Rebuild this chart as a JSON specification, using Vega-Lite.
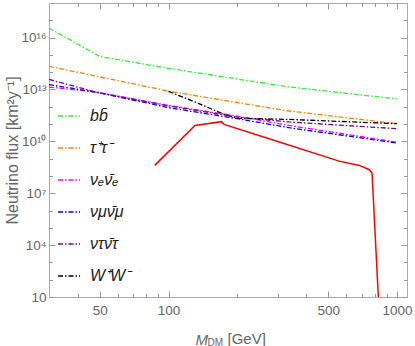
{
  "$schema": "https://vega.github.io/schema/vega-lite/v6.json",
  "width": 358,
  "height": 294,
  "autosize": {"type": "none"},
  "padding": {"left": 49, "top": 3, "right": 8, "bottom": 49},
  "background": "white",
  "config": {"view": {"stroke": "#aaaaaa", "strokeWidth": 1}, "font": "Liberation Sans"},
  "datasets": {
    "lines": [
      {"m": 30, "flux": 3.55e16, "ch": "bb\u0304"},
      {"m": 50, "flux": 8.13e14, "ch": "bb\u0304"},
      {"m": 100, "flux": 1.66e14, "ch": "bb\u0304"},
      {"m": 330, "flux": 1.45e13, "ch": "bb\u0304"},
      {"m": 1000, "flux": 2.82e12, "ch": "bb\u0304"},
      {"m": 30, "flux": 2.19e14, "ch": "\u03c4\u207a\u03c4\u207b"},
      {"m": 100, "flux": 7.94e12, "ch": "\u03c4\u207a\u03c4\u207b"},
      {"m": 330, "flux": 5.89e11, "ch": "\u03c4\u207a\u03c4\u207b"},
      {"m": 1000, "flux": 1.05e11, "ch": "\u03c4\u207a\u03c4\u207b"},
      {"m": 30, "flux": 1.38e13, "ch": "\u03bd\u2091\u03bd\u0304\u2091"},
      {"m": 48, "flux": 7.08e12, "ch": "\u03bd\u2091\u03bd\u0304\u2091"},
      {"m": 100, "flux": 1.2e12, "ch": "\u03bd\u2091\u03bd\u0304\u2091"},
      {"m": 200, "flux": 2.88e11, "ch": "\u03bd\u2091\u03bd\u0304\u2091"},
      {"m": 337, "flux": 8.3e10, "ch": "\u03bd\u2091\u03bd\u0304\u2091"},
      {"m": 1000, "flux": 8.9e9, "ch": "\u03bd\u2091\u03bd\u0304\u2091"},
      {"m": 30, "flux": 1.9e13, "ch": "\u03bd\u03bc\u03bd\u0304\u03bc"},
      {"m": 48, "flux": 7.08e12, "ch": "\u03bd\u03bc\u03bd\u0304\u03bc"},
      {"m": 100, "flux": 8.9e11, "ch": "\u03bd\u03bc\u03bd\u0304\u03bc"},
      {"m": 200, "flux": 2.04e11, "ch": "\u03bd\u03bc\u03bd\u0304\u03bc"},
      {"m": 337, "flux": 6.17e10, "ch": "\u03bd\u03bc\u03bd\u0304\u03bc"},
      {"m": 1000, "flux": 7.94e9, "ch": "\u03bd\u03bc\u03bd\u0304\u03bc"},
      {"m": 30, "flux": 3.8e13, "ch": "\u03bd\u03c4\u03bd\u0304\u03c4"},
      {"m": 48, "flux": 7.08e12, "ch": "\u03bd\u03c4\u03bd\u0304\u03c4"},
      {"m": 100, "flux": 1.12e12, "ch": "\u03bd\u03c4\u03bd\u0304\u03c4"},
      {"m": 200, "flux": 2.51e11, "ch": "\u03bd\u03c4\u03bd\u0304\u03c4"},
      {"m": 337, "flux": 1.32e11, "ch": "\u03bd\u03c4\u03bd\u0304\u03c4"},
      {"m": 1000, "flux": 5.37e10, "ch": "\u03bd\u03c4\u03bd\u0304\u03c4"},
      {"m": 100, "flux": 7.76e12, "ch": "W\u207aW\u207b"},
      {"m": 136, "flux": 1.51e12, "ch": "W\u207aW\u207b"},
      {"m": 172, "flux": 3.98e11, "ch": "W\u207aW\u207b"},
      {"m": 200, "flux": 2.14e11, "ch": "W\u207aW\u207b"},
      {"m": 337, "flux": 1.86e11, "ch": "W\u207aW\u207b"},
      {"m": 1000, "flux": 1.05e11, "ch": "W\u207aW\u207b"}
    ],
    "red": [
      {"m": 87, "flux": 4.07e8},
      {"m": 130.5, "flux": 8.32e10},
      {"m": 170.6, "flux": 1.38e11},
      {"m": 175, "flux": 9.55e10},
      {"m": 305, "flux": 9.12e9},
      {"m": 558, "flux": 7.2e8},
      {"m": 684, "flux": 4.07e8},
      {"m": 757, "flux": 2.29e8},
      {"m": 777, "flux": 1.48e8},
      {"m": 828, "flux": 10}
    ]
  },
  "layer": [
    {
      "data": {"name": "red"},
      "mark": {"type": "line", "color": "#ff0000", "strokeWidth": 1.5, "clip": true},
      "encoding": {
        "x": {"field": "m", "type": "quantitative",
          "scale": {"type": "log", "domain": [30, 1105], "nice": false},
          "axis": {"orient": "top", "values": [40,50,60,70,80,90,100,200,300,400,500,600,700,800,900,1000],
            "labels": false, "domain": false, "grid": false, "title": null, "tickColor": "#999999",
            "tickSize": {"condition": {"test": "indexof([50,100,500,1000], datum.value) >= 0", "value": -6}, "value": -3.5}}},
        "y": {"field": "flux", "type": "quantitative",
          "scale": {"type": "log", "domain": [10, 1e18], "nice": false},
          "axis": {"orient": "right", "values": [1e1,1e2,1e3,1e4,1e5,1e6,1e7,1e8,1e9,1e10,1e11,1e12,1e13,1e14,1e15,1e16,1e17],
            "labels": false, "domain": false, "grid": false, "title": null, "tickColor": "#999999",
            "tickSize": {"condition": {"test": "indexof([1,4,7,10,13,16], round(log(datum.value)/LN10)) >= 0", "value": -6}, "value": -3.5}}}
      }
    },
    {
      "data": {"name": "lines"},
      "mark": {"type": "line", "strokeWidth": 1.3, "strokeDash": [5, 2, 1.5, 2], "clip": true},
      "encoding": {
        "x": {"field": "m", "type": "quantitative",
          "scale": {"type": "log", "domain": [30, 1105], "nice": false},
          "axis": {"orient": "bottom", "values": [40,50,60,70,80,90,100,200,300,400,500,600,700,800,900,1000],
            "labelExpr": "indexof([50,100,500,1000], datum.value) >= 0 ? '' + datum.value : ''",
            "labelFont": "Liberation Sans", "labelFontSize": 13.5, "labelColor": "#666666", "labelPadding": 12,
            "labelFlush": false, "labelOverlap": false, "domain": false, "grid": false, "tickColor": "#999999",
            "tickSize": {"condition": {"test": "indexof([50,100,500,1000], datum.value) >= 0", "value": -6}, "value": -3.5},
            "title": "M", "titleFont": "Liberation Sans", "titleFontStyle": "italic", "titleFontWeight": "normal",
            "titleFontSize": 15, "titleColor": "#666666", "titleX": 146, "titleY": 47, "titleAlign": "left", "titleBaseline": "alphabetic"}},
        "y": {"field": "flux", "type": "quantitative",
          "scale": {"type": "log", "domain": [10, 1e18], "nice": false},
          "axis": {"orient": "left", "values": [1e1,1e2,1e3,1e4,1e5,1e6,1e7,1e8,1e9,1e10,1e11,1e12,1e13,1e14,1e15,1e16,1e17],
            "labelExpr": "round(log(datum.value)/LN10) == 1 ? '10' : round(log(datum.value)/LN10) == 4 ? '10\u2074' : round(log(datum.value)/LN10) == 7 ? '10\u2077' : round(log(datum.value)/LN10) == 10 ? '10\u00b9\u2070' : round(log(datum.value)/LN10) == 13 ? '10\u00b9\u00b3' : round(log(datum.value)/LN10) == 16 ? '10\u00b9\u2076' : ''",
            "labelFont": "Liberation Sans", "labelFontSize": 13.5, "labelColor": "#666666", "labelPadding": 9,
            "labelFlush": false, "labelOverlap": false, "domain": false, "grid": false, "tickColor": "#999999",
            "tickSize": {"condition": {"test": "indexof([1,4,7,10,13,16], round(log(datum.value)/LN10)) >= 0", "value": -6}, "value": -3.5},
            "title": "Neutrino flux [km\u00b2y\u207b\u00b9]", "titleFont": "Liberation Sans", "titleFontWeight": "normal",
            "titleFontSize": 16, "titleColor": "#666666", "titleX": -32, "titleY": 147, "titleAngle": 270,
            "titleAlign": "center", "titleBaseline": "alphabetic"}},
        "color": {"field": "ch", "type": "nominal",
          "scale": {"domain": ["bb\u0304", "\u03c4\u207a\u03c4\u207b", "\u03bd\u2091\u03bd\u0304\u2091", "\u03bd\u03bc\u03bd\u0304\u03bc", "\u03bd\u03c4\u03bd\u0304\u03c4", "W\u207aW\u207b"],
            "range": ["#33ee33", "#ff8000", "#ff00ff", "#0000ff", "#800080", "#000000"]},
          "legend": {"title": null, "orient": "none", "legendX": 8, "legendY": 101, "padding": 0,
            "symbolType": "stroke", "symbolSize": 484, "symbolStrokeWidth": 1.3, "symbolDash": [5, 2, 1.5, 2],
            "labelFont": "Liberation Sans", "labelFontSize": 16, "labelFontStyle": "italic", "labelColor": "#222222",
            "labelOffset": 9, "rowPadding": 12}}
      }
    },
    {
      "data": {"name": "red"},
      "mark": {"type": "line", "opacity": 0},
      "encoding": {
        "x": {"field": "m", "type": "quantitative",
          "scale": {"type": "log", "domain": [30, 1105], "nice": false},
          "axis": {"orient": "bottom", "labels": false, "ticks": false, "domain": false, "grid": false,
            "title": "DM", "titleFont": "Liberation Sans", "titleFontWeight": "normal", "titleFontSize": 10,
            "titleColor": "#666666", "titleX": 158, "titleY": 48, "titleAlign": "left", "titleBaseline": "alphabetic"}},
        "y": {"field": "flux", "type": "quantitative", "scale": {"type": "log", "domain": [10, 1e18], "nice": false}, "axis": null}
      }
    },
    {
      "data": {"name": "red"},
      "mark": {"type": "line", "opacity": 0},
      "encoding": {
        "x": {"field": "m", "type": "quantitative",
          "scale": {"type": "log", "domain": [30, 1105], "nice": false},
          "axis": {"orient": "bottom", "labels": false, "ticks": false, "domain": false, "grid": false,
            "title": "[GeV]", "titleFont": "Liberation Sans", "titleFontWeight": "normal", "titleFontSize": 15,
            "titleColor": "#666666", "titleX": 178, "titleY": 46.5, "titleAlign": "left", "titleBaseline": "alphabetic"}},
        "y": {"field": "flux", "type": "quantitative", "scale": {"type": "log", "domain": [10, 1e18], "nice": false}, "axis": null}
      }
    }
  ],
  "resolve": {"axis": {"x": "independent", "y": "independent"}}
}
